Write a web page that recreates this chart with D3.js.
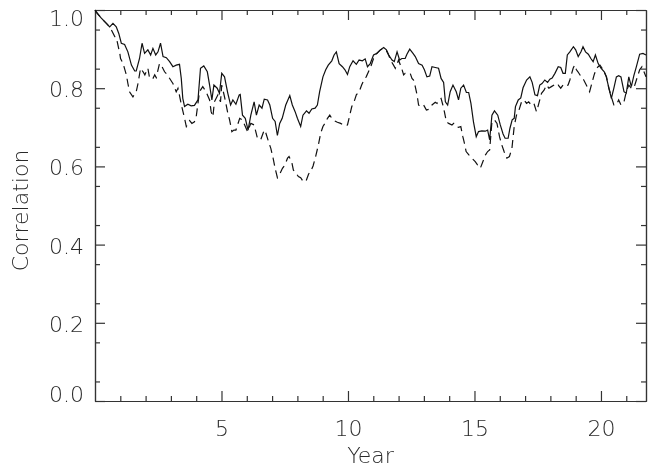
<!DOCTYPE html>
<html>
<head>
<meta charset="utf-8">
<script src="https://cdn.jsdelivr.net/npm/d3@7"></script>
<style>
  html, body { margin: 0; padding: 0; background: #fff; }
  #chart { filter: grayscale(1); }
  svg text { font-family: "DejaVu Sans", sans-serif; font-weight: 200; fill: #2a2a2a; }
</style>
</head>
<body>
<svg id="chart" width="648" height="472"></svg>
<script>
// Running correlation over time: solid and dashed series
const solidYear = [0, 0.05, 0.25, 0.45, 0.58, 0.71, 0.84, 0.94, 1.04, 1.17, 1.30, 1.44, 1.57, 1.63, 1.76, 1.86, 1.96, 2.09, 2.20, 2.29, 2.40, 2.49, 2.59, 2.69, 2.82, 2.95, 3.08, 3.21, 3.34, 3.41, 3.47, 3.54, 3.67, 3.80, 3.93, 4.07, 4.17, 4.30, 4.44, 4.53, 4.62, 4.70, 4.83, 4.92, 5.01, 5.12, 5.25, 5.36, 5.45, 5.57, 5.70, 5.74, 5.83, 5.94, 6.05, 6.16, 6.29, 6.38, 6.49, 6.60, 6.69, 6.82, 6.91, 7.02, 7.12, 7.21, 7.30, 7.40, 7.54, 7.70, 7.80, 7.91, 8.00, 8.13, 8.22, 8.36, 8.46, 8.57, 8.70, 8.79, 8.88, 9.01, 9.12, 9.22, 9.36, 9.45, 9.54, 9.65, 9.78, 9.88, 9.98, 10.07, 10.20, 10.33, 10.44, 10.57, 10.68, 10.77, 10.88, 11.01, 11.14, 11.28, 11.41, 11.52, 11.61, 11.74, 11.83, 11.94, 12.04, 12.13, 12.26, 12.33, 12.44, 12.57, 12.66, 12.79, 12.93, 13.02, 13.12, 13.23, 13.32, 13.45, 13.58, 13.68, 13.78, 13.85, 13.94, 14.04, 14.15, 14.28, 14.37, 14.46, 14.57, 14.68, 14.77, 14.86, 14.96, 15.07, 15.16, 15.29, 15.43, 15.52, 15.60, 15.69, 15.79, 15.92, 16.02, 16.13, 16.21, 16.33, 16.40, 16.49, 16.57, 16.62, 16.73, 16.83, 16.92, 17.06, 17.19, 17.28, 17.39, 17.49, 17.58, 17.67, 17.78, 17.89, 17.98, 18.07, 18.18, 18.31, 18.41, 18.50, 18.59, 18.67, 18.77, 18.91, 19.00, 19.10, 19.21, 19.29, 19.39, 19.50, 19.60, 19.69, 19.78, 19.89, 20.00, 20.13, 20.21, 20.30, 20.41, 20.51, 20.61, 20.70, 20.79, 20.91, 21.00, 21.10, 21.20, 21.30, 21.40, 21.53, 21.66, 21.78];
const solidCorr = [1.000, 0.994, 0.979, 0.966, 0.957, 0.966, 0.957, 0.940, 0.915, 0.912, 0.893, 0.859, 0.844, 0.844, 0.876, 0.915, 0.889, 0.898, 0.885, 0.902, 0.885, 0.893, 0.915, 0.881, 0.878, 0.868, 0.855, 0.859, 0.861, 0.825, 0.774, 0.753, 0.759, 0.755, 0.756, 0.770, 0.851, 0.857, 0.842, 0.808, 0.770, 0.808, 0.800, 0.787, 0.838, 0.829, 0.787, 0.757, 0.770, 0.759, 0.783, 0.784, 0.731, 0.723, 0.693, 0.731, 0.765, 0.731, 0.757, 0.749, 0.772, 0.770, 0.757, 0.723, 0.715, 0.679, 0.710, 0.723, 0.757, 0.781, 0.757, 0.740, 0.723, 0.702, 0.731, 0.742, 0.736, 0.747, 0.749, 0.757, 0.791, 0.829, 0.847, 0.859, 0.870, 0.885, 0.893, 0.863, 0.855, 0.847, 0.835, 0.855, 0.870, 0.861, 0.872, 0.870, 0.875, 0.855, 0.863, 0.885, 0.889, 0.898, 0.904, 0.898, 0.885, 0.872, 0.868, 0.893, 0.872, 0.876, 0.876, 0.887, 0.900, 0.889, 0.881, 0.863, 0.859, 0.847, 0.829, 0.831, 0.855, 0.853, 0.851, 0.825, 0.815, 0.765, 0.757, 0.791, 0.808, 0.791, 0.770, 0.800, 0.808, 0.789, 0.789, 0.761, 0.714, 0.676, 0.689, 0.691, 0.690, 0.693, 0.668, 0.731, 0.742, 0.731, 0.706, 0.683, 0.672, 0.672, 0.697, 0.719, 0.723, 0.753, 0.770, 0.775, 0.801, 0.821, 0.829, 0.815, 0.783, 0.781, 0.808, 0.812, 0.821, 0.815, 0.823, 0.826, 0.838, 0.855, 0.853, 0.838, 0.838, 0.885, 0.893, 0.906, 0.898, 0.881, 0.893, 0.906, 0.893, 0.887, 0.876, 0.868, 0.885, 0.863, 0.851, 0.842, 0.829, 0.804, 0.774, 0.800, 0.829, 0.832, 0.829, 0.791, 0.787, 0.829, 0.804, 0.832, 0.855, 0.887, 0.889, 0.885];

const dashYear = [0, 0.25, 0.45, 0.60, 0.78, 0.84, 0.98, 1.01, 1.11, 1.24, 1.30, 1.37, 1.50, 1.63, 1.70, 1.80, 1.90, 1.97, 2.09, 2.16, 2.29, 2.36, 2.42, 2.55, 2.62, 2.75, 2.86, 2.99, 3.08, 3.21, 3.28, 3.43, 3.54, 3.61, 3.74, 3.83, 3.93, 4.00, 4.13, 4.26, 4.39, 4.53, 4.59, 4.66, 4.72, 4.86, 4.96, 5.01, 5.12, 5.25, 5.32, 5.41, 5.49, 5.57, 5.72, 5.83, 5.89, 6.03, 6.16, 6.29, 6.42, 6.55, 6.69, 6.75, 6.86, 6.95, 7.04, 7.12, 7.21, 7.30, 7.41, 7.51, 7.61, 7.67, 7.78, 7.84, 7.93, 8.04, 8.13, 8.23, 8.34, 8.44, 8.53, 8.62, 8.72, 8.83, 8.92, 9.01, 9.09, 9.19, 9.28, 9.36, 9.45, 9.58, 9.71, 9.88, 9.98, 10.07, 10.15, 10.24, 10.33, 10.44, 10.54, 10.63, 10.72, 10.81, 10.90, 11.01, 11.14, 11.28, 11.41, 11.52, 11.61, 11.70, 11.80, 11.87, 12.00, 12.14, 12.20, 12.26, 12.46, 12.53, 12.59, 12.66, 12.73, 12.79, 12.86, 12.99, 13.10, 13.19, 13.32, 13.45, 13.52, 13.58, 13.68, 13.75, 13.81, 13.89, 13.98, 14.11, 14.18, 14.28, 14.37, 14.46, 14.54, 14.59, 14.67, 14.77, 14.90, 15.03, 15.12, 15.23, 15.33, 15.43, 15.52, 15.60, 15.69, 15.79, 15.89, 15.99, 16.08, 16.17, 16.28, 16.38, 16.48, 16.57, 16.66, 16.76, 16.86, 16.96, 17.06, 17.14, 17.25, 17.35, 17.45, 17.51, 17.65, 17.75, 17.85, 17.94, 18.04, 18.15, 18.24, 18.31, 18.41, 18.50, 18.59, 18.70, 18.77, 18.90, 18.96, 19.03, 19.09, 19.22, 19.32, 19.42, 19.55, 19.62, 19.73, 19.82, 19.96, 20.09, 20.22, 20.31, 20.41, 20.51, 20.61, 20.70, 20.79, 20.91, 21.00, 21.10, 21.20, 21.30, 21.40, 21.53, 21.62, 21.78];
const dashCorr = [1.000, 0.979, 0.966, 0.955, 0.932, 0.930, 0.889, 0.876, 0.863, 0.834, 0.812, 0.790, 0.778, 0.791, 0.812, 0.851, 0.842, 0.834, 0.851, 0.825, 0.825, 0.834, 0.827, 0.863, 0.859, 0.842, 0.834, 0.821, 0.812, 0.791, 0.800, 0.753, 0.723, 0.702, 0.717, 0.710, 0.714, 0.727, 0.791, 0.804, 0.791, 0.770, 0.740, 0.727, 0.765, 0.783, 0.765, 0.808, 0.778, 0.736, 0.719, 0.689, 0.693, 0.693, 0.723, 0.719, 0.710, 0.689, 0.710, 0.706, 0.672, 0.668, 0.693, 0.686, 0.663, 0.646, 0.621, 0.595, 0.571, 0.580, 0.595, 0.604, 0.621, 0.625, 0.610, 0.591, 0.584, 0.574, 0.571, 0.561, 0.562, 0.580, 0.588, 0.601, 0.625, 0.655, 0.685, 0.702, 0.710, 0.723, 0.731, 0.723, 0.717, 0.713, 0.710, 0.704, 0.706, 0.731, 0.753, 0.765, 0.783, 0.791, 0.808, 0.821, 0.829, 0.842, 0.855, 0.876, 0.889, 0.898, 0.902, 0.896, 0.884, 0.870, 0.859, 0.851, 0.872, 0.847, 0.834, 0.838, 0.838, 0.825, 0.821, 0.804, 0.783, 0.757, 0.753, 0.757, 0.744, 0.746, 0.757, 0.764, 0.761, 0.770, 0.774, 0.757, 0.740, 0.714, 0.710, 0.706, 0.710, 0.702, 0.700, 0.702, 0.676, 0.663, 0.638, 0.630, 0.621, 0.612, 0.604, 0.595, 0.612, 0.629, 0.638, 0.642, 0.714, 0.719, 0.710, 0.676, 0.655, 0.638, 0.621, 0.625, 0.646, 0.702, 0.731, 0.744, 0.765, 0.770, 0.761, 0.765, 0.757, 0.761, 0.740, 0.753, 0.787, 0.795, 0.808, 0.800, 0.804, 0.808, 0.804, 0.808, 0.800, 0.808, 0.804, 0.808, 0.821, 0.851, 0.859, 0.847, 0.842, 0.829, 0.821, 0.808, 0.791, 0.808, 0.834, 0.851, 0.859, 0.847, 0.829, 0.800, 0.778, 0.757, 0.757, 0.770, 0.757, 0.765, 0.791, 0.808, 0.800, 0.800, 0.821, 0.847, 0.855, 0.829];

// Axis ticks
const xMajorTicks = [5, 10, 15, 20];
const yMajorTicks = [0.0, 0.2, 0.4, 0.6, 0.8, 1.0];
const xDomain = [0, 21.78];
const yDomain = [0, 1];

const svg = d3.select("#chart");
const margin = { left: 95, right: 2, top: 10, bottom: 71 };
const W = 648, H = 472;
const x = d3.scaleLinear().domain(xDomain).range([margin.left, W - margin.right]);
const y = d3.scaleLinear().domain(yDomain).range([H - margin.bottom, margin.top]);

const axisColor = "#333";
const xMinor = d3.range(1, 22).filter(v => v % 5 !== 0);
const yMinor = d3.range(0.05, 1.0, 0.1).map(v => +v.toFixed(2));

function styleAxis(g) {
  g.select(".domain").attr("stroke", axisColor).attr("stroke-width", 1.2);
  g.selectAll(".tick line").attr("stroke", axisColor).attr("stroke-width", 1.2);
}

// Bottom axis (labelled) and top axis (ticks only)
const gBottom = svg.append("g").attr("transform", `translate(0,${y(0)})`)
  .call(d3.axisBottom(x).tickValues(xMajorTicks).tickSize(-10).tickSizeOuter(0).tickPadding(19).tickFormat(d3.format("d")));
styleAxis(gBottom);
gBottom.selectAll("text").attr("font-size", 22).attr("dy", "0.71em");
svg.append("g").attr("transform", `translate(0,${y(0)})`)
  .call(d3.axisBottom(x).tickValues(xMinor).tickSize(-5).tickSizeOuter(0).tickFormat(""))
  .call(styleAxis);

svg.append("g").attr("transform", `translate(0,${y(1)})`)
  .call(d3.axisTop(x).tickValues(xMajorTicks).tickSize(-10).tickSizeOuter(0).tickFormat(""))
  .call(styleAxis);
svg.append("g").attr("transform", `translate(0,${y(1)})`)
  .call(d3.axisTop(x).tickValues(xMinor).tickSize(-5).tickSizeOuter(0).tickFormat(""))
  .call(styleAxis);

// Left axis (labelled) and right axis (ticks only); end labels sit inside the frame
const gLeft = svg.append("g").attr("transform", `translate(${x(0)},0)`)
  .call(d3.axisLeft(y).tickValues(yMajorTicks).tickSize(-10).tickSizeOuter(0).tickPadding(11).tickFormat(d3.format(".1f")));
styleAxis(gLeft);
gLeft.selectAll("text").attr("font-size", 22)
  .attr("y", d => d === 0 ? -7 : d === 1 ? 8 : 1.5);
svg.append("g").attr("transform", `translate(${x(0)},0)`)
  .call(d3.axisLeft(y).tickValues(yMinor).tickSize(-5).tickSizeOuter(0).tickFormat(""))
  .call(styleAxis);

svg.append("g").attr("transform", `translate(${x(xDomain[1])},0)`)
  .call(d3.axisRight(y).tickValues(yMajorTicks).tickSize(-10).tickSizeOuter(0).tickFormat(""))
  .call(styleAxis);
svg.append("g").attr("transform", `translate(${x(xDomain[1])},0)`)
  .call(d3.axisRight(y).tickValues(yMinor).tickSize(-5).tickSizeOuter(0).tickFormat(""))
  .call(styleAxis);

// Axis titles
svg.append("text")
  .attr("x", (x(0) + x(xDomain[1])) / 2).attr("y", 463)
  .attr("text-anchor", "middle").attr("font-size", 22)
  .text("Year");
svg.append("text")
  .attr("transform", `translate(28,${(y(0) + y(1)) / 2 + 5}) rotate(-90)`)
  .attr("text-anchor", "middle").attr("font-size", 22)
  .text("Correlation");

// Series lines
const line = d3.line().x(d => x(d[0])).y(d => y(d[1]));
const solidData = solidYear.map((v, i) => [v, solidCorr[i]]);
const dashData = dashYear.map((v, i) => [v, dashCorr[i]]);

svg.append("path").datum(dashData)
  .attr("d", line).attr("fill", "none").attr("stroke", "#111")
  .attr("stroke-width", 1.2).attr("stroke-dasharray", "8,5");
svg.append("path").datum(solidData)
  .attr("d", line).attr("fill", "none").attr("stroke", "#111")
  .attr("stroke-width", 1.2);
</script>
</body>
</html>
